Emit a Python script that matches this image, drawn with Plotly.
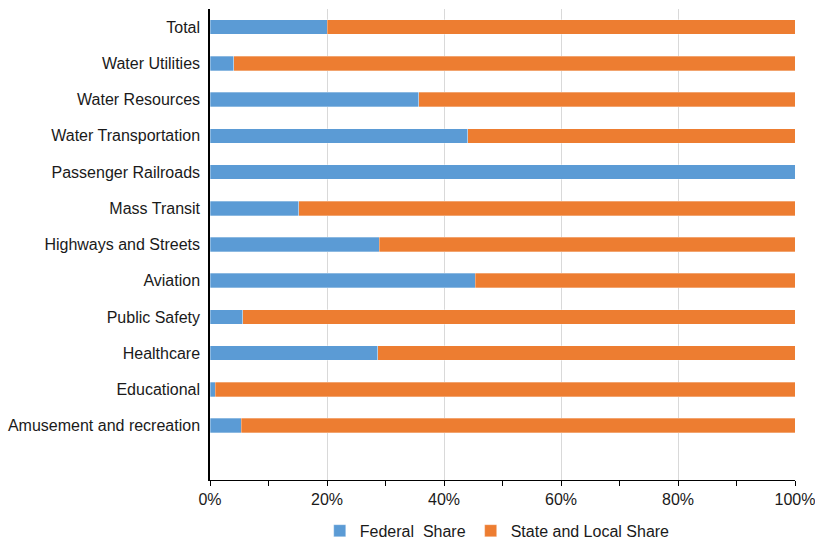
import plotly.graph_objects as go

# Categories listed bottom-to-top
categories = [
    "Amusement and recreation",
    "Educational",
    "Healthcare",
    "Public Safety",
    "Aviation",
    "Highways and Streets",
    "Mass Transit",
    "Passenger Railroads",
    "Water Transportation",
    "Water Resources",
    "Water Utilities",
    "Total",
]
federal_share = [0.053, 0.009, 0.287, 0.056, 0.453, 0.289, 0.152, 1.0, 0.441, 0.357, 0.041, 0.200]
state_local_share = [1 - v for v in federal_share]

BLUE = "#5B9BD5"
ORANGE = "#ED7D31"
FONT = "Liberation Sans, Arial, sans-serif"

fig = go.Figure()
fig.add_trace(go.Bar(
    y=categories, x=federal_share, orientation="h", name="Federal  Share",
    marker=dict(color=BLUE, line=dict(color="rgba(255,255,255,0.5)", width=0.6)),
))
fig.add_trace(go.Bar(
    y=categories, x=state_local_share, orientation="h", name="State and Local Share",
    marker=dict(color=ORANGE, line=dict(color="rgba(255,255,255,0.5)", width=0.6)),
))

fig.update_layout(
    width=815, height=540,
    barmode="stack", bargap=0.6,
    plot_bgcolor="white", paper_bgcolor="white",
    margin=dict(l=210, r=20, t=9, b=60, autoexpand=False),
    font=dict(family=FONT, size=16, color="#1a1a1a"),
    legend=dict(
        orientation="h", x=0.491, xref="paper", xanchor="center",
        y=0.017, yref="container", yanchor="middle",
        font=dict(size=16), traceorder="normal", itemwidth=30,
    ),
    xaxis=dict(
        range=[0, 1], dtick=0.2, tickformat=".0%", automargin=False,
        ticklabeloverflow="allow",
        showgrid=True, gridcolor="#d9d9d9", gridwidth=1,
        ticks="outside", ticklen=5, tickcolor="black",
        minor=dict(dtick=0.1, ticks="outside", ticklen=5, tickcolor="black", showgrid=False),
        showline=True, linecolor="black", linewidth=1.2,
        zeroline=False, tickfont=dict(size=16),
    ),
    yaxis=dict(
        type="category", categoryorder="array", categoryarray=categories,
        range=[-1.5, 11.5], showgrid=False, ticks="", automargin=False,
        showline=True, linecolor="black", linewidth=1.5,
        tickfont=dict(size=16), ticklabelstandoff=5,
    ),
)

fig.write_html("out.html")
